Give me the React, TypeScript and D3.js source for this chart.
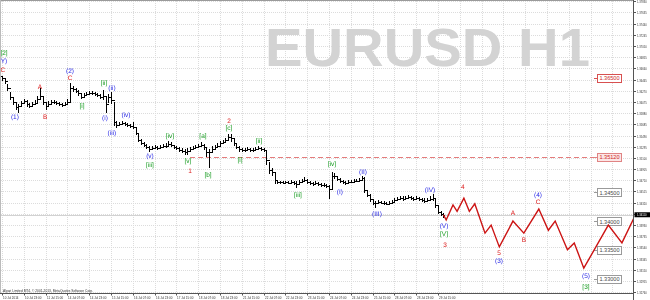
import React from 'react';
import * as d3 from 'd3';

// H1 EURUSD, sampled every 2 hours (bar i = hour 2*i from 10 Jul 2014 07:00)
const highs = [
  1.3653,1.3649,1.3639,1.3625,1.3614,1.3606,1.3604,1.3609,1.3613,1.3611,
  1.3606,1.3607,1.3611,1.3618,1.3632,1.3616,1.3607,1.3609,1.3611,1.3611,
  1.3609,1.3607,1.3606,1.3607,1.3613,1.3640,1.3635,1.3632,1.3628,1.3621,
  1.3623,1.3625,1.3626,1.3626,1.3625,1.3623,1.3621,1.3628,1.3616,1.3621,
  1.3625,1.3607,1.3574,1.3573,1.3574,1.3573,1.3571,1.3569,1.3573,1.3562,
  1.3553,1.3543,1.3538,1.3534,1.3531,1.3531,1.3532,1.3531,1.3532,1.3534,
  1.3536,1.3539,1.3538,1.3532,1.3531,1.3529,1.3527,1.3526,1.3527,1.3529,
  1.3531,1.3532,1.3534,1.3538,1.3534,1.3529,1.3526,1.3531,1.3532,1.3536,
  1.3539,1.3541,1.3545,1.3552,1.3552,1.3543,1.3536,1.3531,1.3527,1.3527,
  1.3529,1.3527,1.3527,1.3529,1.3531,1.3529,1.3527,1.3524,1.3503,1.3492,
  1.3485,1.3472,1.3470,1.3470,1.3470,1.3470,1.3472,1.3470,1.3470,1.3472,
  1.3473,1.3477,1.3473,1.3470,1.3468,1.3470,1.3468,1.3466,1.3466,1.3465,
  1.3463,1.3485,1.3484,1.3478,1.3475,1.3472,1.3470,1.3472,1.3472,1.3473,
  1.3473,1.3475,1.3478,1.3477,1.3454,1.3447,1.3438,1.3435,1.3437,1.3435,
  1.3435,1.3433,1.3435,1.3437,1.3440,1.3442,1.3444,1.3444,1.3444,1.3445,
  1.3444,1.3442,1.3444,1.3442,1.3440,1.3440,1.3440,1.3444,1.3447,1.3438,
  1.3426,1.3418,1.3414,
];
const closes = [
  1.3649,1.3644,1.3632,1.3616,1.3607,1.3599,1.3600,1.3606,1.3609,1.3604,
  1.3600,1.3604,1.3606,1.3613,1.3618,1.3607,1.3600,1.3604,1.3607,1.3607,
  1.3606,1.3604,1.3602,1.3604,1.3607,1.3632,1.3630,1.3626,1.3623,1.3616,
  1.3620,1.3621,1.3623,1.3623,1.3621,1.3620,1.3616,1.3618,1.3604,1.3616,
  1.3611,1.3573,1.3567,1.3569,1.3571,1.3569,1.3567,1.3566,1.3564,1.3553,
  1.3541,1.3536,1.3532,1.3529,1.3526,1.3527,1.3529,1.3527,1.3529,1.3531,
  1.3531,1.3534,1.3532,1.3529,1.3527,1.3524,1.3522,1.3520,1.3522,1.3526,
  1.3527,1.3529,1.3531,1.3532,1.3529,1.3520,1.3520,1.3526,1.3529,1.3531,
  1.3536,1.3538,1.3541,1.3546,1.3545,1.3536,1.3529,1.3526,1.3524,1.3524,
  1.3526,1.3524,1.3524,1.3526,1.3527,1.3526,1.3524,1.3506,1.3489,1.3485,
  1.3472,1.3468,1.3468,1.3466,1.3468,1.3466,1.3468,1.3466,1.3465,1.3468,
  1.3470,1.3472,1.3468,1.3466,1.3465,1.3466,1.3465,1.3463,1.3463,1.3461,
  1.3456,1.3478,1.3478,1.3473,1.3470,1.3468,1.3466,1.3468,1.3468,1.3470,
  1.3470,1.3472,1.3475,1.3454,1.3445,1.3438,1.3432,1.3432,1.3433,1.3432,
  1.3432,1.3430,1.3432,1.3433,1.3437,1.3438,1.3440,1.3438,1.3440,1.3442,
  1.3440,1.3438,1.3440,1.3438,1.3437,1.3435,1.3437,1.3438,1.3440,1.3428,
  1.3416,1.3412,1.3411,
];
const lows = [
  1.3644,1.3639,1.3626,1.3611,1.3602,1.3593,1.3588,1.3599,1.3604,1.3599,
  1.3597,1.3599,1.3602,1.3606,1.3611,1.3602,1.3593,1.3599,1.3602,1.3604,
  1.3602,1.3600,1.3599,1.3600,1.3604,1.3606,1.3625,1.3623,1.3618,1.3613,
  1.3614,1.3618,1.3620,1.3620,1.3618,1.3616,1.3613,1.3611,1.3588,1.3606,
  1.3604,1.3566,1.3562,1.3566,1.3567,1.3566,1.3564,1.3562,1.3560,1.3550,
  1.3538,1.3532,1.3529,1.3526,1.3520,1.3524,1.3526,1.3524,1.3526,1.3527,
  1.3527,1.3529,1.3529,1.3526,1.3524,1.3520,1.3519,1.3515,1.3515,1.3522,
  1.3524,1.3526,1.3527,1.3529,1.3524,1.3512,1.3492,1.3519,1.3524,1.3527,
  1.3531,1.3534,1.3536,1.3539,1.3538,1.3531,1.3526,1.3520,1.3520,1.3520,
  1.3522,1.3520,1.3520,1.3522,1.3524,1.3522,1.3520,1.3498,1.3482,1.3478,
  1.3465,1.3465,1.3465,1.3465,1.3465,1.3465,1.3465,1.3463,1.3458,1.3465,
  1.3466,1.3468,1.3465,1.3463,1.3461,1.3463,1.3461,1.3459,1.3459,1.3458,
  1.3438,1.3454,1.3473,1.3470,1.3466,1.3465,1.3463,1.3465,1.3466,1.3466,
  1.3468,1.3468,1.3472,1.3449,1.3442,1.3433,1.3428,1.3423,1.3430,1.3430,
  1.3428,1.3428,1.3428,1.3430,1.3433,1.3435,1.3437,1.3435,1.3437,1.3438,
  1.3437,1.3435,1.3437,1.3435,1.3433,1.3432,1.3433,1.3435,1.3435,1.3423,
  1.3412,1.3408,1.3406,
];
const HOURS_PER_BAR = 2;

const timeLabels = [
  '10 Jul 2014', '10 Jul 23:00', '11 Jul 15:00', '14 Jul 07:00', '14 Jul 23:00',
  '15 Jul 15:00', '16 Jul 07:00', '16 Jul 23:00', '17 Jul 15:00', '18 Jul 07:00',
  '18 Jul 23:00', '21 Jul 15:00', '22 Jul 07:00', '22 Jul 23:00', '23 Jul 15:00',
  '24 Jul 07:00', '24 Jul 23:00', '25 Jul 15:00', '28 Jul 07:00', '28 Jul 23:00',
  '29 Jul 15:00',
];
const HOURS_PER_LABEL = 16;
const GRID_SLOTS = 30;

const priceTicks = [
  1.3783, 1.37635, 1.3744, 1.37245, 1.3705, 1.36855, 1.3666, 1.36465, 1.3627,
  1.36075, 1.3588, 1.35685, 1.3549, 1.35295, 1.351, 1.34905, 1.3471, 1.34515,
  1.3432, 1.34125, 1.3393, 1.33735, 1.3354, 1.33345, 1.3315, 1.32955, 1.3276,
];

const levelPrices = [1.365, 1.3512, 1.345, 1.34, 1.335, 1.33];
const levelKinds = ['red', 'dash', 'gray', 'gray', 'gray', 'gray'];
const DASH_START_HOUR = 138;

const projHours = [324, 326, 331, 334, 339, 343, 347, 354.5, 359, 365, 375, 383, 394, 401, 406, 415, 420, 427, 445, 455, 466];
const projPrices = [1.3411, 1.3402, 1.3428, 1.3417, 1.3440, 1.3417, 1.3430, 1.3379, 1.3393, 1.3355, 1.3400, 1.3379, 1.3421, 1.3384, 1.3400, 1.3350, 1.3362, 1.3318, 1.3393, 1.3362, 1.3416];

const waveTexts = ['[2]', 'Y)', 'C', '(1)', 'A', 'B', '(2)', 'C', '[i]', '[ii]', '(ii)', '(i)', '(iii)', '(iv)', '(v)', '[iii]', '[iv]', '[v]', '1', '[a]', '[b]', '2', '[c]', '[i]', '[ii]', '[iii]', '[iv]', '(I)', '(II)', '(III)', '(IV)', '(V)', '[V]', '3', '4', 'A', '5', '(3)', 'B', '(4)', 'C', '(5)', '[3]'];
const waveHours = [1.5, 1.5, 0.7, 9.5, 27.9, 31.6, 49.9, 49.9, 58.7, 74.9, 80.7, 75.6, 80.7, 91, 108.6, 108.6, 123.3, 136.5, 138, 147.5, 151.2, 166.6, 166.6, 174.7, 188.6, 217.2, 242.2, 248, 265, 275.2, 314.1, 324.4, 324.4, 325.1, 338.3, 375, 364.8, 364.8, 383.1, 393.4, 393.4, 428.6, 428.6];
const wavePrices = [1.3691, 1.3677, 1.3663, 1.3581, 1.3632, 1.3581, 1.3661, 1.3649, 1.3599, 1.3640, 1.3630, 1.3578, 1.3553, 1.3583, 1.3512, 1.3496, 1.3548, 1.3503, 1.3487, 1.3548, 1.3480, 1.3574, 1.3562, 1.3505, 1.3539, 1.3444, 1.3498, 1.3449, 1.3485, 1.3411, 1.3454, 1.3390, 1.3377, 1.3358, 1.3458, 1.3414, 1.3343, 1.3329, 1.3367, 1.3445, 1.3432, 1.3303, 1.3285];
const waveColors = ['g', 'b', 'r', 'b', 'r', 'r', 'b', 'r', 'g', 'g', 'b', 'b', 'b', 'b', 'b', 'g', 'g', 'g', 'r', 'g', 'g', 'r', 'g', 'g', 'g', 'g', 'g', 'b', 'b', 'b', 'b', 'b', 'g', 'r', 'r', 'r', 'r', 'b', 'r', 'b', 'r', 'b', 'g'];

const COLORS: Record<string, string> = { b: '#2a2ae6', r: '#dc2020', g: '#159a1e' };
const FONT = "'Liberation Sans', Arial, sans-serif";

export default function App() {
  const W = 650, H = 300;
  const plotRight = 633.5;
  const plotBottom = 293.5;
  const x = d3.scaleLinear().domain([0, 463]).range([2, 2 + 463 * 1.3625]);
  const y = d3.scaleLinear().domain([1.33, 1.365]).range([278.5, 77.5]);
  const crisp = (v: number) => Math.round(v) + 0.5;

  const lastClose = closes[closes.length - 1];
  const projLine = d3.line<number>()
    .x((_, i) => x(projHours[i]))
    .y((d) => y(d));

  const bars = closes.map((c, i) => {
    const xi = crisp(x(i * HOURS_PER_BAR));
    const o = i > 0 ? closes[i - 1] : highs[0];
    return (
      <g key={i}>
        <line x1={xi} x2={xi} y1={y(highs[i])} y2={y(lows[i])} />
        <line x1={xi - 1.5} x2={xi} y1={crisp(y(o))} y2={crisp(y(o))} />
        <line x1={xi} x2={xi + 1.5} y1={crisp(y(c))} y2={crisp(y(c))} />
      </g>
    );
  });

  return (
    <svg width={W} height={H} style={{ position: 'absolute', left: 0, top: 0, background: '#fff' }}>
      <defs>
        <clipPath id="plotClip">
          <rect x={0} y={0} width={plotRight} height={plotBottom} />
        </clipPath>
      </defs>
      <rect x={0} y={0} width={W} height={H} fill="#fff" />
      {/* grid */}
      <g stroke="#dcdcdc" strokeWidth={1} strokeDasharray="1,1" shapeRendering="crispEdges">
        {d3.range(GRID_SLOTS).map((k) => {
          const xv = crisp(x(k * HOURS_PER_LABEL));
          return xv < plotRight ? <line key={'v' + k} x1={xv} x2={xv} y1={1} y2={plotBottom} /> : null;
        })}
        {priceTicks.map((p, k) => (
          <line key={'h' + k} x1={1} x2={plotRight} y1={crisp(y(p))} y2={crisp(y(p))} />
        ))}
      </g>
      {/* watermark */}
      <text x={265} y={66} fontFamily={FONT} fontWeight="bold" fontSize={54} fill="#d3d3d3"
        textLength={325} lengthAdjust="spacingAndGlyphs">EURUSD H1</text>

      {/* current price line */}
      <line x1={1} x2={plotRight} y1={crisp(y(lastClose))} y2={crisp(y(lastClose))} stroke="#d2d2d2" shapeRendering="crispEdges" />

      {/* level lines and labels */}
      {levelPrices.map((p, k) => {
        const yy = y(p);
        const kind = levelKinds[k];
        const stroke = kind === 'gray' ? '#9a9a9a' : kind === 'red' ? '#d85050' : '#e08484';
        const fill = kind === 'dash' ? '#fce6e6' : '#ffffff';
        const tcol = kind === 'gray' ? '#4a4a4a' : '#cc2a2a';
        return (
          <g key={'lv' + k}>
            {kind === 'dash' && (
              <line x1={x(DASH_START_HOUR)} x2={597} y1={crisp(yy)} y2={crisp(yy)} stroke="#e47c7c" strokeDasharray="5,3" shapeRendering="crispEdges" />
            )}
            <line x1={594} x2={597} y1={crisp(yy)} y2={crisp(yy)} stroke={stroke} shapeRendering="crispEdges" />
            <rect x={597.5} y={Math.round(yy) - 3.5} width={24} height={8} fill={fill} stroke={stroke} shapeRendering="crispEdges" />
            <text x={609.5} y={yy + 0.5} fontFamily={FONT} fontSize={5.6} fill={tcol} textAnchor="middle" dominantBaseline="central">
              {p.toFixed(5)}
            </text>
          </g>
        );
      })}

      {/* price bars */}
      <g stroke="#000" strokeWidth={1} shapeRendering="crispEdges">{bars}</g>

      {/* projection */}
      <path d={projLine(projPrices) || ''} fill="none" stroke="#cc1414" strokeWidth={1.4} clipPath="url(#plotClip)" />

      {/* wave labels */}
      <g opacity={0.999} style={{ willChange: 'transform' }}>
        {waveTexts.map((t, k) => (
          <text key={'w' + k} x={x(waveHours[k])} y={y(wavePrices[k])} fontFamily={FONT} fontSize={6.5}
            fill={COLORS[waveColors[k]]} textAnchor="middle" dominantBaseline="central"
            textRendering="geometricPrecision">{t}</text>
        ))}
      </g>

      {/* frame and axes */}
      <line x1={0} x2={plotRight} y1={0.5} y2={0.5} stroke="#9a9a9a" />
      <line x1={0.5} x2={0.5} y1={0} y2={plotBottom} stroke="#bbbbbb" />
      <line x1={plotRight} x2={plotRight} y1={0} y2={H} stroke="#555" />
      <line x1={0} x2={plotRight} y1={plotBottom} y2={plotBottom} stroke="#555" />

      {/* price axis */}
      {priceTicks.map((p, k) => {
        const yy = crisp(y(p));
        return (
          <g key={'pt' + k}>
            <line x1={plotRight} x2={plotRight + 2.5} y1={yy} y2={yy} stroke="#555" />
            <text x={637} y={yy + 1} fontFamily={FONT} fontSize={2.7} fill="#333">{p.toFixed(5)}</text>
          </g>
        );
      })}
      <rect x={634.5} y={y(lastClose) - 2.5} width={15.5} height={5} fill="#000" />
      <text x={637} y={y(lastClose) + 1} fontFamily={FONT} fontSize={2.7} fill="#fff">{lastClose.toFixed(5)}</text>

      {/* time axis */}
      {timeLabels.map((t, k) => {
        const xv = crisp(x(k * HOURS_PER_LABEL));
        return (
          <g key={'tl' + k}>
            <line x1={xv} x2={xv} y1={plotBottom} y2={plotBottom + 2} stroke="#555" />
            <text x={xv + 0.5} y={298.5} fontFamily={FONT} fontSize={3} fill="#333">{t}</text>
          </g>
        );
      })}
      <text x={3} y={291.5} fontFamily={FONT} fontSize={3.4} fill="#333" textLength={90} lengthAdjust="spacingAndGlyphs">
        Alpari Limited MT4, © 2001-2013, MetaQuotes Software Corp.
      </text>
    </svg>
  );
}
